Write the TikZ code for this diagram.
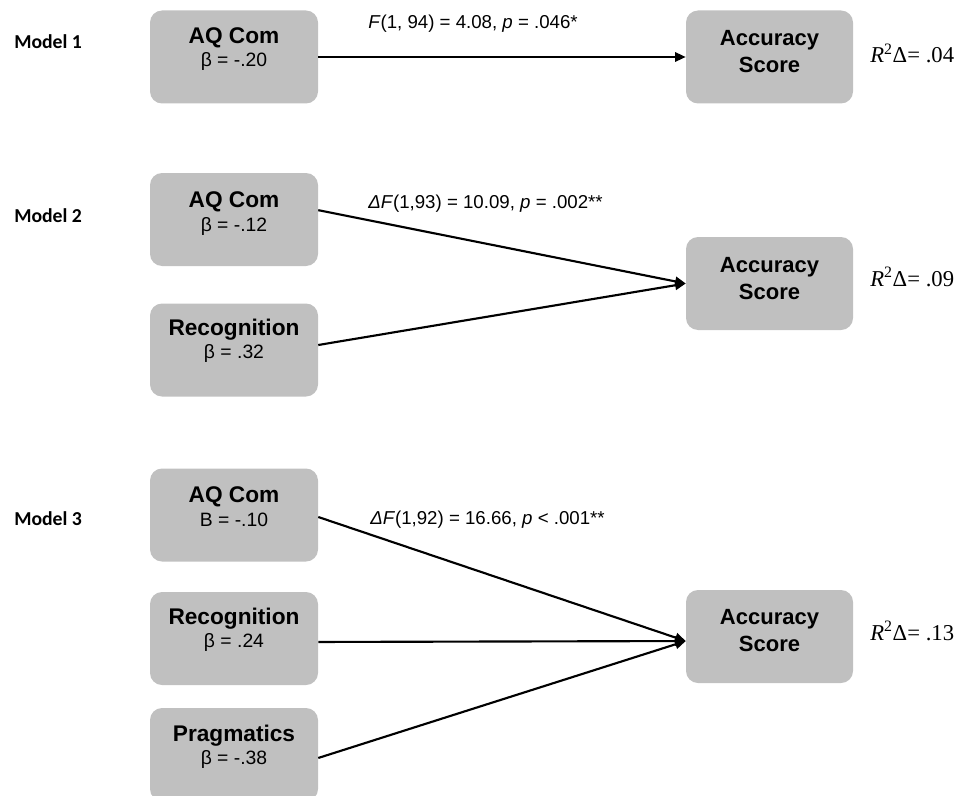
\documentclass[tikz,border=0pt]{standalone}
\usepackage{fontspec}
\setmainfont{Liberation Sans}
\newfontfamily\serifR{Liberation Serif}
\newfontfamily\calib{Carlito}
\usetikzlibrary{arrows.meta}
\definecolor{boxgray}{RGB}{192,192,192}
\tikzset{
  lbox/.style={fill=boxgray, draw=none, rounded corners=9pt, minimum width=126pt, minimum height=69.75pt, inner sep=0pt},
  rbox/.style={fill=boxgray, draw=none, rounded corners=9pt, minimum width=125.25pt, minimum height=69.75pt, inner sep=0pt},
  ttl/.style={anchor=base, inner sep=0pt, font=\fontsize{17}{20}\selectfont\bfseries},
  rttl/.style={anchor=base, inner sep=0pt, font=\fontsize{16.5}{20}\selectfont\bfseries},
  coef/.style={anchor=base, inner sep=0pt, font=\fontsize{14.5}{17}\selectfont},
  stat/.style={anchor=base west, inner sep=0pt, font=\fontsize{14}{17}\selectfont},
  rsq/.style={anchor=base west, inner sep=0pt, font=\fontsize{17}{20}\serifR},
  mlab/.style={anchor=base west, inner sep=0pt, font=\fontsize{14.8}{17}\calib\bfseries},
  arr/.style={-{Triangle[length=8pt,width=7pt]}, line width=1.6pt, black},
}
\begin{document}
\begin{tikzpicture}[x=0.75pt,y=-0.75pt]
\useasboundingbox (0,0) rectangle (966,795);
\clip (0,0) rectangle (966,795);

% ---------- Model 1 ----------
\node[mlab] (lab1) at (14,49) {Model 1};
\node[lbox] (m1a) at (234,57) {};
\node[ttl] (m1at) at (234,44) {AQ Com};
\node[coef] (m1ac) at (234,67) {β = -.20};
\node[rbox] (m1y) at (769.5,57) {};
\node[rttl] (m1yt) at (769.5,46) {Accuracy};
\node[rttl] (m1ys) at (769.5,73) {Score};
\node[rsq] (m1r) at (870,63) {\textit{R}\textsuperscript{2}Δ= .04};
\draw[arr] (m1a.east) -- (m1y.west);
\node[stat] (m1s) at (368,29) {\textit{F}(1, 94) = 4.08, \textit{p} = .046*};

% ---------- Model 2 ----------
\node[mlab] (lab2) at (14,222) {Model 2};
\node[lbox] (m2a) at (234,219.5) {};
\node[ttl] (m2at) at (234,207) {AQ Com};
\node[coef] (m2ac) at (234,231) {β = -.12};
\node[lbox] (m2b) at (234,350) {};
\node[ttl] (m2bt) at (234,335) {Recognition};
\node[coef] (m2bc) at (234,358) {β = .32};
\node[rbox] (m2y) at (769.5,283.5) {};
\node[rttl] (m2yt) at (769.5,272) {Accuracy};
\node[rttl] (m2ys) at (769.5,299) {Score};
\node[rsq] (m2r) at (870,286) {\textit{R}\textsuperscript{2}Δ= .09};
\draw[arr] ([yshift=7pt]m2a.east) -- (m2y.west);
\draw[arr] ([yshift=3.75pt]m2b.east) -- (m2y.west);
\node[stat] (m2s) at (368,208) {\textit{ΔF}(1,93) = 10.09, \textit{p} = .002**};

% ---------- Model 3 ----------
\node[mlab] (lab3) at (14,525) {Model 3};
\node[lbox] (m3a) at (234,515) {};
\node[ttl] (m3at) at (234,502) {AQ Com};
\node[coef] (m3ac) at (234,526) {B = -.10};
\node[lbox] (m3b) at (234,638.5) {};
\node[ttl] (m3bt) at (234,624) {Recognition};
\node[coef] (m3bc) at (234,647) {β = .24};
\node[lbox] (m3c) at (234,754.5) {};
\node[ttl] (m3ct) at (234,741) {Pragmatics};
\node[coef] (m3cc) at (234,764) {β = -.38};
\node[rbox] (m3y) at (769.5,636.5) {};
\node[rttl] (m3yt) at (769.5,624) {Accuracy};
\node[rttl] (m3ys) at (769.5,651) {Score};
\node[rsq] (m3r) at (870,640) {\textit{R}\textsuperscript{2}Δ= .13};
\coordinate (m3in) at ([yshift=-3.4pt]m3y.west);
\draw[arr] ([yshift=-1.5pt]m3a.east) -- (m3in);
\draw[arr] ([yshift=-2.6pt]m3b.east) -- (m3in);
\draw[arr] ([yshift=-2.6pt]m3c.east) -- (m3in);
\node[stat] (m3s) at (370,524) {\textit{ΔF}(1,92) = 16.66, \textit{p} < .001**};
\end{tikzpicture}
\end{document}
